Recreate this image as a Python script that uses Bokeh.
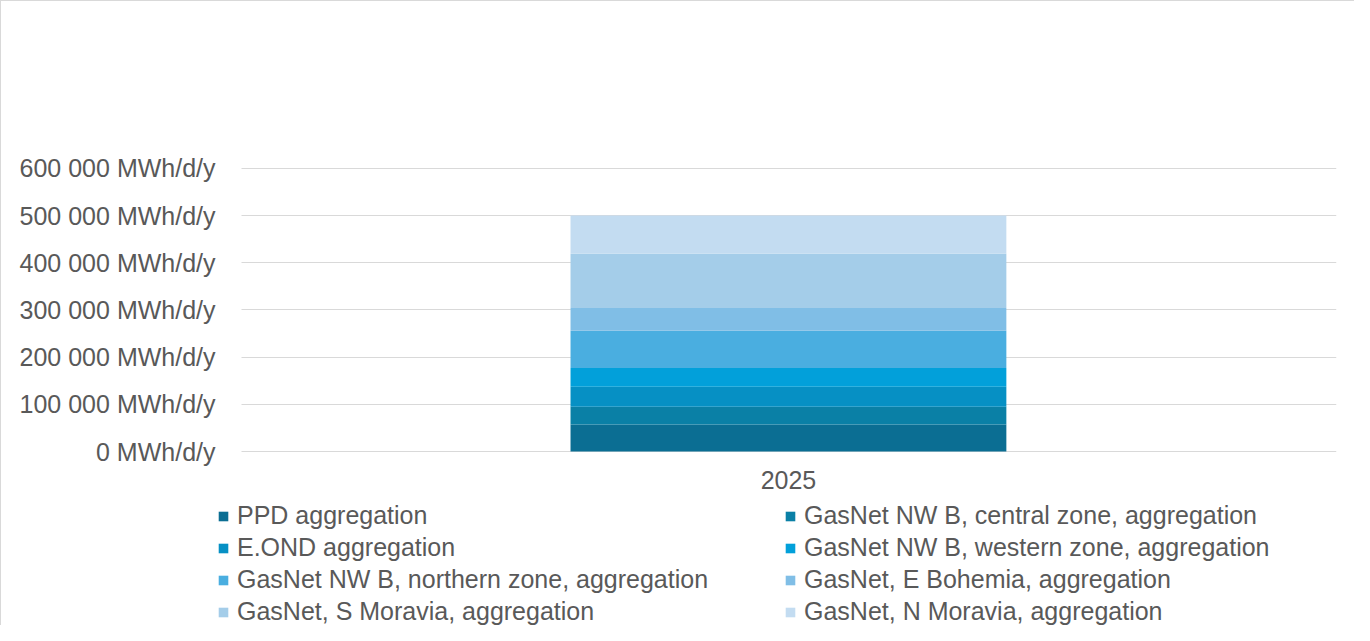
from bokeh.plotting import figure
from bokeh.models import FixedTicker, Legend, LegendItem, ColumnDataSource, Range1d
from bokeh.core.properties import value
from bokeh.embed import file_html
from bokeh.resources import INLINE

# ---- data ----
years = ["2025"]
series_names = [
    "PPD aggregation",
    "GasNet NW B, central zone, aggregation",
    "E.OND aggregation",
    "GasNet NW B, western zone, aggregation",
    "GasNet NW B, northern zone, aggregation",
    "GasNet, E Bohemia, aggregation",
    "GasNet, S Moravia, aggregation",
    "GasNet, N Moravia, aggregation",
]
ppd = [57000]
nwb_central = [38000]
eond = [42000]
nwb_western = [40000]
nwb_northern = [79000]
e_bohemia = [48000]
s_moravia = [115000]
n_moravia = [81000]
series_values = [ppd, nwb_central, eond, nwb_western, nwb_northern, e_bohemia, s_moravia, n_moravia]
colors = ["#0b6e93", "#0a80a6", "#0690c4", "#02a0da", "#4aaee0", "#80bee6", "#a4cde9", "#c3dcf1"]
y_ticks = [0, 100000, 200000, 300000, 400000, 500000, 600000]
y_tick_labels = ["0 MWh/d/y", "100 000 MWh/d/y", "200 000 MWh/d/y", "300 000 MWh/d/y",
                 "400 000 MWh/d/y", "500 000 MWh/d/y", "600 000 MWh/d/y"]

# category positions on a numeric axis (index of each category)
xpos = list(range(len(years)))
keys = ["s%d" % i for i in range(len(series_names))]
data = {"x": xpos, "year": years, "base": [0] * len(years)}
for k, v in zip(keys, series_values):
    data[k] = v
source = ColumnDataSource(data)

FONT = "Liberation Sans"
TXT = "#595959"
FS = "25px"

# ---- layout (pixels) ----
W, H = 1354, 625
LEFT, RIGHT, TOP = 216, 19, 166
Y0_PX = 450            # where value 0 sits
Y_MAX = 602000
y_start = -Y_MAX * (H - Y0_PX) / (Y0_PX - TOP)
X_START, X_END = -0.524, 0.503
px_per_unit = (W - LEFT - RIGHT) / (X_END - X_START)
GRID_LEFT_PX = 240
grid_x0 = X_START + (GRID_LEFT_PX - LEFT) / px_per_unit

p = figure(width=W, height=H, x_range=Range1d(X_START, X_END), y_range=Range1d(y_start, Y_MAX),
           output_backend="svg", toolbar_location=None, x_axis_location=None,
           min_border_left=LEFT, min_border_right=RIGHT, min_border_top=TOP, min_border_bottom=0)
p.styles = {"border-left": "1px solid #d9d9d9", "border-top": "1px solid #d9d9d9"}
p.outline_line_color = None
p.background_fill_color = "white"
p.border_fill_color = "white"

renderers = p.vbar_stack(keys, x="x", width=0.4, color=colors, source=source, line_width=0)

# category label under the bar
p.text(x="x", y="base", text="year", source=source, text_align="center", text_baseline="middle",
       y_offset=28, text_font=value(FONT), text_font_size=FS, text_color=TXT)

p.yaxis.ticker = FixedTicker(ticks=y_ticks)
p.yaxis.major_label_overrides = {t: l for t, l in zip(y_ticks, y_tick_labels)}
ax = p.yaxis[0]
ax.axis_line_color = None
ax.major_tick_line_color = None
ax.minor_tick_line_color = None
ax.major_label_text_font = FONT
ax.major_label_text_font_size = FS
ax.major_label_text_color = TXT
ax.major_label_standoff = -4
p.ygrid.grid_line_color = "#d9d9d9"
p.ygrid.grid_line_width = 1
p.ygrid.cross_bounds = (grid_x0, X_END)
p.xgrid.grid_line_color = None

items = [LegendItem(label=n, renderers=[r]) for n, r in zip(series_names, renderers)]
col1 = [items[0], items[2], items[4], items[6]]
col2 = [items[1], items[3], items[5], items[7]]
for xloc, its in ((0, col1), (567, col2)):
    leg = Legend(items=its, location=(xloc, 0), orientation="vertical")
    leg.label_text_font = FONT
    leg.label_text_font_size = FS
    leg.label_text_color = TXT
    leg.glyph_width = 12
    leg.glyph_height = 12
    leg.label_standoff = 8
    leg.label_height = 27
    leg.spacing = 3
    leg.padding = 0
    leg.margin = 0
    leg.background_fill_alpha = 0
    leg.border_line_color = None
    p.add_layout(leg)

open("out.html", "w").write(file_html(p, INLINE))
